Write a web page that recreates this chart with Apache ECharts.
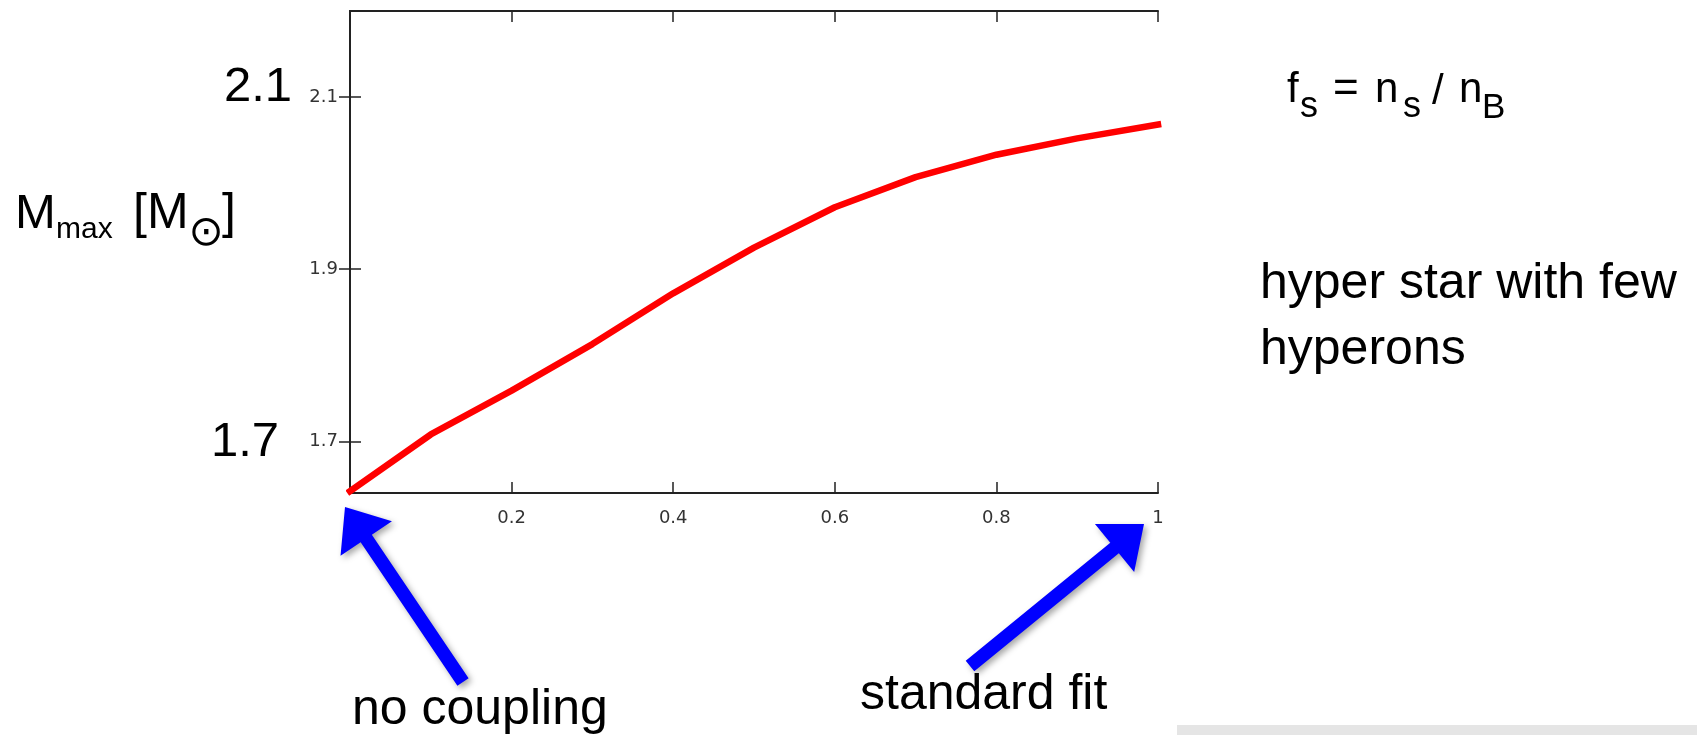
<!DOCTYPE html>
<html>
<head>
<meta charset="utf-8">
<title>M_max vs f_s</title>
<script src="https://cdn.jsdelivr.net/npm/echarts@6/dist/echarts.min.js"></script>
<style>
  html, body { margin: 0; padding: 0; background: #fff; }
  #chart { width: 1697px; height: 735px; }
</style>
</head>
<body>
<div id="chart"></div>
<script>
// 数据
const fsValues = [0, 0.1, 0.2, 0.3, 0.4, 0.5, 0.6, 0.7, 0.8, 0.9, 1.0];
const mmaxValues = [1.642, 1.708, 1.759, 1.813, 1.872, 1.925, 1.972, 2.007, 2.033, 2.052, 2.068];
const xTickValues = [0, 0.2, 0.4, 0.6, 0.8, 1];
const xLabelValues = [0.2, 0.4, 0.6, 0.8, 1];
const yTickValues = [1.7, 1.9, 2.1];

const tickFont = "'DejaVu Sans', sans-serif";
const slideFont = "'Liberation Sans', Arial, sans-serif";
const frameColor = '#222';

// text placed by its baseline
function txt(str, x, baseline, size, opts) {
  opts = opts || {};
  return {
    type: 'text',
    x: x,
    y: baseline - 0.35 * size,
    z: 10,
    style: {
      text: str,
      fontSize: size,
      fontFamily: opts.family || slideFont,
      fill: '#000',
      align: opts.align || 'left',
      verticalAlign: 'middle'
    }
  };
}

// block arrow from tail to tip
function arrow(tail, tip, shaftW, headW, headL) {
  const dx = tip[0] - tail[0], dy = tip[1] - tail[1];
  const len = Math.sqrt(dx * dx + dy * dy);
  const ux = dx / len, uy = dy / len;
  const px = -uy, py = ux;
  const bx = tip[0] - ux * headL, by = tip[1] - uy * headL;
  const p = (x, y, s) => [x + px * s, y + py * s];
  return {
    type: 'polygon',
    z: 20,
    shape: {
      points: [
        p(tail[0], tail[1], shaftW / 2),
        p(bx, by, shaftW / 2),
        p(bx, by, headW / 2),
        tip,
        p(bx, by, -headW / 2),
        p(bx, by, -shaftW / 2),
        p(tail[0], tail[1], -shaftW / 2)
      ]
    },
    style: {
      fill: '#0000ff',
      shadowBlur: 6,
      shadowColor: 'rgba(0,0,0,0.35)',
      shadowOffsetX: 3,
      shadowOffsetY: 3
    }
  };
}

const chart = echarts.init(document.getElementById('chart'));

// ticks point into the box (negative length)
const xBase = {
  type: 'value',
  min: 0,
  max: 1,
  axisLine: { show: true, lineStyle: { color: frameColor, width: 2 } },
  axisTick: { show: true, inside: false, length: -11, customValues: xTickValues, lineStyle: { color: frameColor, width: 1.5 } },
  splitLine: { show: false }
};
const yBase = {
  type: 'value',
  min: 1.64,
  max: 2.2,
  axisLine: { show: true, lineStyle: { color: frameColor, width: 2 } },
  axisTick: { show: true, inside: false, length: -11, customValues: yTickValues, lineStyle: { color: frameColor, width: 1.5 } },
  splitLine: { show: false }
};

const option = {
  animation: false,
  backgroundColor: '#fff',
  grid: { left: 350, right: 539, top: 11, bottom: 242 },
  xAxis: [
    Object.assign({}, xBase, {
      position: 'bottom',
      axisLabel: {
        customValues: xLabelValues,
        margin: 16,
        fontSize: 18,
        fontFamily: tickFont,
        color: '#333'
      }
    }),
    Object.assign({}, xBase, { position: 'top', axisLabel: { show: false } })
  ],
  yAxis: [
    Object.assign({}, yBase, {
      position: 'left',
      axisLabel: {
        customValues: yTickValues,
        margin: 12,
        fontSize: 18,
        fontFamily: tickFont,
        color: '#333'
      }
    }),
    Object.assign({}, yBase, { position: 'right', axisLabel: { show: false } })
  ],
  series: [{
    type: 'line',
    data: fsValues.map((v, i) => [v, mmaxValues[i]]),
    xAxisIndex: 0,
    yAxisIndex: 0,
    showSymbol: false,
    clip: false,
    lineStyle: { color: '#ff0000', width: 6.5, cap: 'square' }
  }],
  graphic: [
    // big y values on the left
    txt('2.1', 292, 105, 49, { align: 'right' }),
    txt('1.7', 279, 460, 49, { align: 'right' }),
    // y title
    txt('M', 15, 232, 49),
    txt('max', 56, 240, 30),
    txt('[M', 133, 232, 50),
    txt('\u2299', 206, 249, 42, { family: "'DejaVu Sans', sans-serif", align: 'center' }),
    txt(']', 222, 232, 50),
    // formula
    txt('f', 1287, 105, 42),
    txt('s', 1300, 120, 36),
    txt('=', 1333, 105, 44),
    txt('n', 1375, 105, 42),
    txt('s', 1403, 120, 36),
    txt('/', 1432, 107, 42),
    txt('n', 1459, 105, 42),
    txt('B', 1482, 121, 35),
    // notes
    txt('hyper star with few', 1260, 302, 50),
    txt('hyperons', 1260, 368, 50),
    txt('no coupling', 352, 728, 50),
    txt('standard fit', 860, 713, 50),
    // arrows
    arrow([463, 682], [345, 507], 13.5, 62, 38),
    arrow([970, 666], [1144, 524], 13.5, 62, 38),
    // grey strip at the bottom
    { type: 'rect', z: 5, shape: { x: 1177, y: 725, width: 520, height: 10 }, style: { fill: '#e5e5e5' } }
  ]
};

chart.setOption(option);
</script>
</body>
</html>
